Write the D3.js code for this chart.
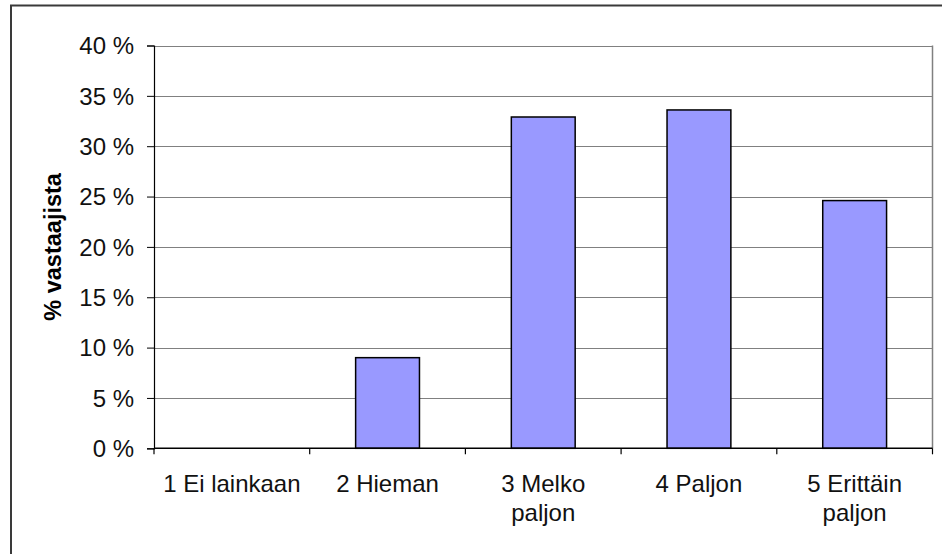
<!DOCTYPE html>
<html>
<head>
<meta charset="utf-8">
<script src="https://cdn.jsdelivr.net/npm/d3@7"></script>
<style>
  body { margin: 0; background: #fff; }
  svg { display: block; font-family: "Liberation Sans", Arial, sans-serif; }
</style>
</head>
<body>
<div class="canvas"></div>
<script>
// chart data
const categories = ['1 Ei lainkaan', '2 Hieman', '3 Melko paljon', '4 Paljon', '5 Erittäin paljon'];
const values = [0, 9.0, 32.9, 33.6, 24.6]; // % of respondents
const yTicks = [0, 5, 10, 15, 20, 25, 30, 35, 40];
const yTitle = '% vastaajista';

// dimensions
const dims = { width: 942, height: 554 };
const plot = { left: 154, top: 45.5, right: 932.5, bottom: 448.3 };

const svg = d3.select('.canvas')
  .append('svg')
  .attr('width', dims.width)
  .attr('height', dims.height);

// outer frame (runs off the right/bottom edge like the original)
svg.append('rect')
  .attr('x', 11).attr('y', 5.5)
  .attr('width', 960).attr('height', 600)
  .attr('fill', 'none')
  .attr('stroke', '#3a3a3a')
  .attr('stroke-width', 2);

// scales
const x = d3.scaleBand()
  .domain(categories)
  .range([plot.left, plot.right])
  .padding(0);

const y = d3.scaleLinear()
  .domain([0, 40])
  .range([plot.bottom, plot.top]);

// gridlines
svg.append('g')
  .selectAll('line')
  .data(yTicks.filter(d => d > 0))
  .enter().append('line')
  .attr('x1', plot.left).attr('x2', plot.right)
  .attr('y1', d => Math.round(y(d)) + 0.5)
  .attr('y2', d => Math.round(y(d)) + 0.5)
  .attr('stroke', '#808080')
  .attr('stroke-width', 1.2);

// plot area right edge
svg.append('line')
  .attr('x1', plot.right).attr('x2', plot.right)
  .attr('y1', y(40)).attr('y2', y(0))
  .attr('stroke', '#808080')
  .attr('stroke-width', 1.5);

// bars
const barW = x.bandwidth() * 0.41;
svg.append('g')
  .selectAll('rect')
  .data(values)
  .enter().append('rect')
  .attr('x', (d, i) => x(categories[i]) + (x.bandwidth() - barW) / 2)
  .attr('y', d => y(d))
  .attr('width', barW)
  .attr('height', d => y(0) - y(d))
  .attr('fill', '#9999ff')
  .attr('stroke', d => d > 0 ? '#000' : 'none')
  .attr('stroke-width', 1.5);

// y axis
const yAxis = d3.axisLeft(y)
  .tickValues(yTicks)
  .tickFormat(d => d + ' %')
  .tickSize(7)
  .tickPadding(13);

const gy = svg.append('g')
  .attr('transform', `translate(${plot.left},0)`)
  .call(yAxis);
gy.select('.domain').attr('stroke', '#000').attr('stroke-width', 1.2);
gy.selectAll('.tick line').attr('stroke', '#000');
gy.selectAll('.tick text')
  .attr('fill', '#111')
  .attr('dy', '0.34em')
  .style('font-size', '24px')
  .style('font-family', '"Liberation Sans", Arial, sans-serif');

// x axis (ticks between categories)
const xEdges = categories.map(c => x(c)).concat([plot.right]);
svg.append('line')
  .attr('x1', plot.left).attr('x2', plot.right)
  .attr('y1', y(0)).attr('y2', y(0))
  .attr('stroke', '#000')
  .attr('stroke-width', 1.5);
svg.append('g')
  .selectAll('line')
  .data(xEdges)
  .enter().append('line')
  .attr('x1', d => d).attr('x2', d => d)
  .attr('y1', y(0)).attr('y2', y(0) + 6)
  .attr('stroke', '#000')
  .attr('stroke-width', 1.2);

// category labels, wrapped like the original
const wrap = c => {
  const parts = c.split(' ');
  if (c.length > 10 && parts.length > 2) {
    return [parts.slice(0, 2).join(' '), parts.slice(2).join(' ')];
  }
  return [c];
};
const labels = svg.append('g')
  .selectAll('text')
  .data(categories)
  .enter().append('text')
  .attr('text-anchor', 'middle')
  .attr('fill', '#111')
  .style('font-size', '24px');
labels.each(function(c) {
  const lines = c === '1 Ei lainkaan' ? [c] : wrap(c);
  d3.select(this).selectAll('tspan')
    .data(lines)
    .enter().append('tspan')
    .attr('x', x(c) + x.bandwidth() / 2)
    .attr('y', (d, i) => 492 + i * 28.5)
    .text(d => d);
});

// y axis title
svg.append('text')
  .attr('transform', `translate(61, ${(plot.top + plot.bottom) / 2}) rotate(-90)`)
  .attr('text-anchor', 'middle')
  .attr('fill', '#000')
  .style('font-size', '23.5px')
  .style('font-weight', 'bold')
  .text(yTitle);
</script>
</body>
</html>
